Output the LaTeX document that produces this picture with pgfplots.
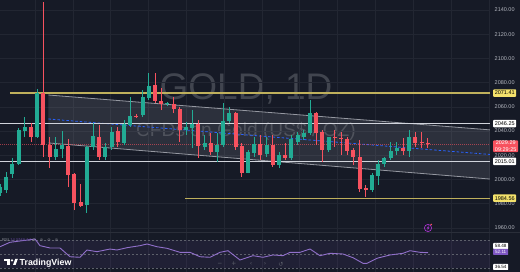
\documentclass[border=0pt]{standalone}
\usepackage{pgfplots}
\usepackage{pgfplotstable}
\pgfplotsset{compat=1.18}
\usepackage{fontspec}
\setmainfont{Liberation Sans}
\newfontfamily\dejavu{DejaVu Sans}
\definecolor{bg}{HTML}{161A26}
\definecolor{gridc}{HTML}{222632}
\definecolor{up}{HTML}{22AB94}
\definecolor{down}{HTML}{F7525F}
\definecolor{ylw}{HTML}{BFB05C}
\definecolor{ylwlab}{HTML}{F4E26C}
\definecolor{wline}{HTML}{D1D4DC}
\definecolor{chan}{HTML}{9598A1}
\definecolor{blu}{HTML}{2962FF}
\definecolor{rsi}{HTML}{7E57C2}
\definecolor{tick}{HTML}{B2B5BE}
\definecolor{wm}{HTML}{41454F}
\definecolor{navc}{HTML}{5D606B}
\definecolor{sep}{HTML}{2A2E39}

\pgfplotstableread{
i o h l c
0 1988.9 1996.3 1986.4 1993.8
1 1991.4 2006.2 1988.9 2002.1
2 2004.6 2017.8 2001.3 2012.8
3 2012.8 2042.6 2012.0 2040.9
4 2040.1 2051.6 2035.1 2043.4
6 2035.1 2074.8 2034.3 2071.5
9 2018.6 2035.1 2016.1 2025.2
10 2025.2 2040.1 2017.8 2028.5
14 1979.0 2027.7 1972.4 2026.9
15 2026.9 2046.7 2024.4 2036.0
17 2018.6 2030.2 2016.1 2026.9
18 2026.9 2043.4 2024.4 2039.3
20 2030.2 2049.2 2028.5 2045.9
21 2045.0 2068.2 2043.4 2052.5
23 2053.3 2074.0 2051.6 2068.2
24 2067.3 2088.0 2065.7 2077.2
27 2062.2 2064.0 2060.5 2063.0
30 2040.9 2047.5 2036.8 2043.4
31 2042.6 2057.4 2026.0 2045.9
33 2026.9 2036.8 2024.4 2030.2
35 2022.7 2038.4 2014.5 2028.5
36 2028.5 2063.2 2026.9 2048.3
37 2048.3 2059.9 2046.7 2054.9
40 2005.4 2024.4 2005.0 2022.7
41 2021.9 2035.1 2018.6 2029.3
43 2021.1 2035.1 2018.6 2028.5
45 2012.0 2022.7 2009.5 2020.3
47 2017.8 2036.8 2016.1 2033.5
48 2031.0 2039.3 2028.5 2036.8
49 2035.1 2040.9 2032.6 2038.4
50 2038.4 2065.7 2036.8 2054.9
53 2024.4 2035.5 2022.7 2035.1
60 1991.4 2005.4 1989.7 2003.7
61 2002.9 2016.1 1995.5 2012.8
62 2012.8 2018.6 2010.4 2017.8
63 2017.8 2031.0 2016.1 2023.6
64 2023.6 2031.0 2020.3 2026.0
66 2023.6 2040.9 2018.6 2035.1
}\upT

\pgfplotstableread{
i o h l c
5 2043.4 2046.7 2031.0 2035.1
7 2071.5 2146.6 2018.6 2028.5
8 2028.5 2035.1 2009.5 2018.6
11 2027.7 2033.5 1993.8 2003.7
12 2004.6 2005.0 1974.8 1980.6
13 1981.4 1996.3 1977.3 1978.1
16 2035.1 2045.0 2016.1 2018.6
19 2040.1 2043.4 2026.9 2031.0
22 2052.5 2054.0 2050.8 2051.6
25 2078.0 2088.0 2063.2 2064.9
26 2064.9 2075.6 2057.4 2062.4
28 2062.4 2068.2 2054.9 2058.2
29 2058.2 2059.9 2031.0 2040.9
32 2045.9 2049.2 2017.8 2027.7
34 2030.2 2038.4 2020.3 2022.7
38 2054.9 2055.7 2024.4 2026.9
39 2027.7 2030.2 2002.1 2005.4
42 2029.3 2036.8 2016.1 2020.3
44 2028.5 2036.8 2010.4 2012.0
46 2020.3 2030.2 2016.1 2017.8
51 2054.9 2055.7 2028.5 2038.4
52 2039.3 2040.9 2014.5 2024.4
54 2035.1 2040.9 2026.9 2034.3
55 2034.3 2039.3 2020.3 2033.5
56 2033.5 2035.1 2020.3 2023.6
57 2024.4 2026.0 2012.0 2018.6
58 2018.6 2032.6 1989.7 1992.2
59 1993.0 1995.5 1985.6 1991.4
65 2026.0 2034.3 2020.3 2023.6
67 2035.1 2039.3 2026.9 2030.2
68 2031.0 2039.3 2026.0 2030.2
69 2030.0 2034.3 2026.0 2029.3
}\downT

% RSI (14) readings: x = bar position, r = RSI value
\pgfplotstableread{
x r
0 60.4
1.61 66.7
5.65 71.4
6.45 61.9
8.06 58.6
9.68 58.6
11.29 46.1
12.9 45.3
14.03 55.7
15.65 53.3
17.74 57.1
18.87 55.7
20.48 59.0
22.58 61.9
23.71 64.3
25.32 60.4
26.94 58.1
29.03 52.4
30.65 52.4
32.26 46.1
33.87 45.3
35.48 52.4
36.77 54.7
38.71 41.4
40.81 47.6
42.42 45.3
44.03 48.6
45.65 47.6
46.77 52.4
48.39 52.4
50 57.1
51.61 47.6
53.23 51.0
55.32 50.0
56.94 44.7
58.55 36.7
59.19 36.7
60.81 43.9
62.9 48.6
65 51.0
66.13 54.7
67.74 52.4
69.03 51.9
}\rsiT

\begin{document}
\begin{tikzpicture}[x=1pt,y=1pt]
\fill[bg] (0,0) rectangle (520,272);
\node[anchor=base, inner sep=0pt, font=\fontsize{37}{37}\selectfont, text=wm] at (246,172) {GOLD, 1D};
\node[anchor=base, inner sep=0pt, font=\fontsize{19.2}{19.2}\selectfont, text=wm] at (246,135) {CFDs on Gold (US\$ / OZ)};

% one axis for both panes: price pane above y=1956.67, RSI pane mapped below it
% RSI value r is drawn at 1923.64 + 0.5782*(r-24.3)
\begin{axis}[
  at={(0pt,0pt)}, anchor=south west, width=490pt, height=272pt, scale only axis,
  xmin=0, xmax=79.03, ymin=1923.64, ymax=2148.26,
  axis line style={draw=none},
  xtick=\empty,
  ytick={1960,1980,2000,2020,2040,2060,2080,2100,2120,2140},
  major tick length=0pt,
  ymajorgrids, grid style={draw=gridc, line width=0.7pt},
  yticklabel pos=right,
  yticklabel style={font=\fontsize{5.5}{6}\selectfont, text=tick, xshift=1.2pt,
    /pgf/number format/fixed, /pgf/number format/fixed zerofill,
    /pgf/number format/precision=2, /pgf/number format/1000 sep={},
    /pgf/number format/assume math mode=true},
]
\pgfplotsinvokeforeach{5.65,11.75,17.85,23.95,30.05,36.15,42.25,48.35,54.45,60.55,66.65,72.75,78.85}{
  \addplot[gridc, line width=0.7pt, forget plot] coordinates {(#1,1920) (#1,2150)};
}
% RSI pane
\addplot[draw=none, fill=rsi, fill opacity=0.10, forget plot] coordinates {(0,1926.94) (79.03,1926.94) (79.03,1950.06) (0,1950.06)} -- cycle;
\addplot[navc, line width=0.5pt, dash pattern=on 2pt off 2pt, forget plot] coordinates {(0,1950.06) (79.03,1950.06)};
\addplot[navc, line width=0.4pt, dash pattern=on 2pt off 2pt, forget plot] coordinates {(0,1938.50) (79.03,1938.50)};
\addplot[navc, line width=0.5pt, dash pattern=on 2pt off 2pt, forget plot] coordinates {(0,1926.94) (79.03,1926.94)};
\addplot[rsi!85!white, line width=0.9pt, forget plot] table[x=x, y expr=1923.64+0.5782*(\thisrow{r}-24.3)] {\rsiT};
% price pane drawings
\addplot[draw=none, fill=chan, fill opacity=0.18, forget plot] coordinates {(7.8,2069.8) (79.03,2041.0) (79.03,2000.4) (7.8,2030.2)} -- cycle;
\addplot[chan, line width=0.8pt, forget plot] coordinates {(7.8,2069.8) (79.03,2041.0)};
\addplot[chan, line width=0.8pt, forget plot] coordinates {(7.8,2030.2) (79.03,2000.4)};
\addplot[blu, line width=0.8pt, dash pattern=on 2.5pt off 2pt, forget plot] coordinates {(7.8,2050.0) (79.03,2020.7)};
\addplot[ylw, line width=1.2pt, forget plot] coordinates {(1.6,2071.41) (79.03,2071.41)};
\addplot[ylw, line width=1.2pt, forget plot] coordinates {(29.8,1984.56) (79.03,1984.56)};
\addplot[wline, line width=0.9pt, forget plot] coordinates {(0,2046.25) (79.03,2046.25)};
\addplot[wline, line width=0.9pt, forget plot] coordinates {(0,2015.01) (79.03,2015.01)};
\addplot[down, opacity=0.6, line width=0.4pt, dash pattern=on 1pt off 1pt, forget plot] coordinates {(0,2029.29) (79.03,2029.29)};
% wicks
\addplot[draw=none, mark=none, forget plot, error bars/.cd, y dir=plus, y explicit, error mark=none,
  error bar style={draw=up, line width=0.9pt, solid}]
  table[x=i, y=l, y error plus expr=\thisrow{h}-\thisrow{l}] {\upT};
\addplot[draw=none, mark=none, forget plot, error bars/.cd, y dir=plus, y explicit, error mark=none,
  error bar style={draw=down, line width=0.9pt, solid}]
  table[x=i, y=l, y error plus expr=\thisrow{h}-\thisrow{l}] {\downT};
% bodies
\addplot[draw=none, mark=none, forget plot, error bars/.cd, y dir=plus, y explicit, error mark=none,
  error bar style={draw=up, line width=3.9pt, solid}]
  table[x=i, y=o, y error plus expr=\thisrow{c}-\thisrow{o}] {\upT};
\addplot[draw=none, mark=none, forget plot, error bars/.cd, y dir=plus, y explicit, error mark=none,
  error bar style={draw=down, line width=3.9pt, solid}]
  table[x=i, y=c, y error plus expr=\thisrow{o}-\thisrow{c}] {\downT};
\coordinate (pA) at (axis cs:79.03,2071.41);
\coordinate (pB) at (axis cs:79.03,2046.25);
\coordinate (pC) at (axis cs:79.03,2029.29);
\coordinate (pD) at (axis cs:79.03,2015.01);
\coordinate (pE) at (axis cs:79.03,1984.56);
\end{axis}

\draw[sep, line width=1pt] (0,39.5) -- (520,39.5);

% price scale labels
\tikzset{plab/.style={font=\fontsize{5.5}{6.5}\selectfont, inner sep=0pt, minimum width=23pt, minimum height=7.5pt, anchor=west, rounded corners=0.8pt}}
\node[plab, fill=ylwlab, text=black] at ([xshift=3pt]pA) {2071.41};
\node[plab, fill=white, text=black] at ([xshift=3pt]pB) {2046.25};
\node[plab, fill=down, text=white, align=center, anchor=north west, minimum width=25pt, inner ysep=0.6pt] at ([xshift=3pt,yshift=3.8pt]pC) {2029.29\\09:29:25};
\node[plab, fill=white, text=black] at ([xshift=3pt]pD) {2015.01};
\node[plab, fill=ylwlab, text=black] at ([xshift=3pt]pE) {1984.56};

% RSI scale labels
\tikzset{rlab/.style={font=\fontsize{4.6}{5}\selectfont, inner sep=0pt, minimum width=15pt, minimum height=6pt, anchor=west, rounded corners=0.6pt}}
\node[rlab, fill=white, text=black] at (493,26) {58.48};
\node[rlab, fill=rsi, text=white] at (493,20) {52.11};
\node[rlab, fill=white, text=black] at (493,5) {36.54};

% RSI legend
\node[anchor=west, inner sep=0pt, font=\fontsize{4.2}{5}\selectfont, text=tick!75!bg] at (2,32) {RSI \textcolor{rsi!75!bg}{14 SMA 14}};
\foreach \xx in {34,41.5,49,56.5} \node[inner sep=0pt, font=\dejavu\fontsize{4}{4}\selectfont, text=tick!75!bg] at (\xx,32) {⊘};

% TradingView logo
\fill[white] (4,10.5) rectangle (10,13);
\fill[white] (7.4,7) rectangle (10,13);
\fill[white] (12,11.6) circle (1.2);
\fill[white] (13,7) -- (15.6,7) -- (17.8,13) -- (15.2,13) -- cycle;
\node[anchor=base west, inner sep=0pt, font=\bfseries\fontsize{8.8}{9}\selectfont, text=white] at (19.5,6.5) {TradingView};

% navigation
\foreach \xx/\ss in {220/−,234/+,251/‹,265/›,281/↺}
  \node[inner sep=0pt, font=\dejavu\fontsize{6}{6}\selectfont, text=navc] at (\xx,8) {\ss};

% alert icon
\draw[rsi!60!magenta, line width=0.6pt] (428,44) circle (3.6);
\fill[rsi!60!magenta] (428.8,46.6) -- (426.7,43.6) -- (428.1,43.6) -- (427.3,41.4) -- (429.4,44.5) -- (428.0,44.5) -- cycle;
\fill[down] (431.2,47.4) circle (0.9);

\pgfresetboundingbox
\path[use as bounding box] (0,0) rectangle (520,272);
\end{tikzpicture}
\end{document}
